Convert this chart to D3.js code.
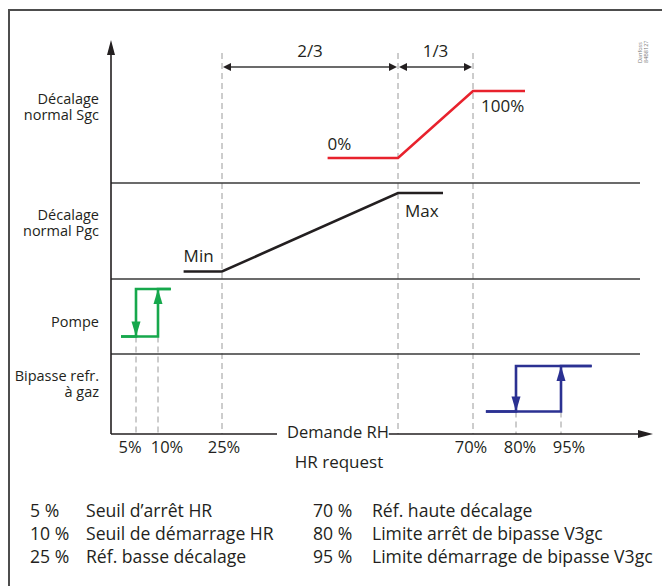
<!DOCTYPE html>
<html>
<head>
<meta charset="utf-8">
<script src="https://cdn.jsdelivr.net/npm/d3@7"></script>
<style>
  body { margin: 0; background: #fff; }
  text { font-family: "Open Sans", sans-serif; fill: #231f20; }
</style>
</head>
<body>
<div id="area"></div>
<script>
// RH thresholds (%) and their labels
let thresholds = [5, 10, 25, 70, 80, 95];
let tickLabels = ["5%", "10%", "25%", "70%", "80%", "95%"];
let splitPoint = 55;          // 2/3 of the way from 25 % to 70 %
let spanLabels = ["2/3", "1/3"];

// lines: RH (%) and level (0 = low, 1 = high)
let sgcRH          = [43, 55, 70, 83],
    sgcLevel       = [0, 0, 1, 1];
let pgcRH          = [16, 25, 55, 64],
    pgcLevel       = [0, 0, 1, 1];
let pumpRiseRH     = [2, 10, 10, 13],
    pumpRiseLevel  = [0, 0, 1, 1];
let pumpFallRH     = [13, 5, 5, 2],
    pumpFallLevel  = [1, 1, 0, 0];
let bypassRiseRH   = [73, 95, 95, 100],
    bypassRiseLevel= [0, 0, 1, 1];
let bypassFallRH   = [100, 80, 80, 73],
    bypassFallLevel= [1, 1, 0, 0];

let bandLabels = [
  ["Décalage", "normal Sgc"],
  ["Décalage", "normal Pgc"],
  ["Pompe"],
  ["Bipasse refr.", "à gaz"]
];

let legendValues = ["5 %", "10 %", "25 %", "70 %", "80 %", "95 %"];
let legendTexts  = [
  "Seuil d\u2019arrêt HR",
  "Seuil de démarrage HR",
  "Réf. basse décalage",
  "Réf. haute décalage",
  "Limite arrêt de bipasse V3gc",
  "Limite démarrage de bipasse V3gc"
];

// ---- layout ----
let width  = 662,
    height = 586;

let x0 = 111, axisY = 434, axisTop = 40, axisEnd = 653, dividerEnd = 640;

// schematic (not linear) RH axis
let x =
  d3.scaleLinear()
    .domain([0, 5, 10, 25, splitPoint, 70, 80, 95, 110])
    .range([x0, 136, 158, 222, 398, 473, 516, 561, axisEnd]);

let bands = [
  {top: axisTop, bottom: 183, lo: 158,   hi: 91,  labelY: 104},
  {top: 183,     bottom: 279, lo: 271.5, hi: 193, labelY: 220},
  {top: 279,     bottom: 354, lo: 336.5, hi: 289, labelY: 327},
  {top: 354,     bottom: axisY, lo: 411.5, hi: 366, labelY: 381}
];
let yBand = bands.map(function(b) {
  return d3.scaleLinear().domain([0, 1]).range([b.lo, b.hi]);
});

let dark  = "#231f20",
    grey  = "#9a9a9a",
    red   = "#e8222d",
    green = "#16a84c",
    blue  = "#2b3192";

let svg =
  d3.select("#area")
    .append("svg")
      .attr("width", width)
      .attr("height", height);

// frame
svg.append("rect")
    .attr("x", 9)
    .attr("y", 10)
    .attr("width", 700)
    .attr("height", 640)
    .attr("fill", "none")
    .attr("stroke", "#4d4d4d")
    .attr("stroke-width", 2);

// dashed guides
let dashTops = {5: bands[2].lo, 10: bands[2].lo, 25: 53, 55: 53, 70: 53, 80: bands[3].lo, 95: bands[3].lo};
svg.append("g")
  .selectAll("line")
  .data(thresholds.concat([splitPoint]))
  .join("line")
    .attr("x1", d => x(d))
    .attr("x2", d => x(d))
    .attr("y1", d => dashTops[d])
    .attr("y2", axisY)
    .attr("stroke", grey)
    .attr("stroke-width", 1)
    .attr("stroke-dasharray", "6,4");

// band dividers
svg.append("g")
  .selectAll("line")
  .data(bands.slice(1))
  .join("line")
    .attr("x1", x0)
    .attr("x2", dividerEnd)
    .attr("y1", d => d.top)
    .attr("y2", d => d.top)
    .attr("stroke", "#3a3a3a")
    .attr("stroke-width", 1.6);

// band labels, one text per line
bands.forEach(function(b, i) {
  bandLabels[i].forEach(function(s, j) {
    svg.append("text")
        .attr("x", 99)
        .attr("y", b.labelY + j * 16)
        .attr("text-anchor", "end")
        .attr("font-size", 14.5)
        .text(s);
  });
});

// axes
svg.append("line")
    .attr("x1", x0).attr("x2", x0)
    .attr("y1", axisY).attr("y2", axisTop + 12)
    .attr("stroke", dark).attr("stroke-width", 1.6);
arrowHead(svg, x0, axisTop, "up", dark, 15, 8);

let xAxisLabel = svg.append("text")
    .attr("x", 287)
    .attr("y", axisY + 4)
    .attr("font-size", 16.5)
    .text("Demande RH");
let lb = xAxisLabel.node().getBBox();

svg.append("line")
    .attr("x1", x0).attr("x2", lb.x - 10)
    .attr("y1", axisY).attr("y2", axisY)
    .attr("stroke", dark).attr("stroke-width", 1.6);
svg.append("line")
    .attr("x1", lb.x + lb.width).attr("x2", axisEnd - 12)
    .attr("y1", axisY).attr("y2", axisY)
    .attr("stroke", dark).attr("stroke-width", 1.6);
arrowHead(svg, axisEnd, axisY, "right", dark, 15, 8);

svg.append("text")
    .attr("x", 339)
    .attr("y", 468)
    .attr("text-anchor", "middle")
    .attr("font-size", 17)
    .text("HR request");

// tick labels
let tickNudge = [-6, 9, 2, -2, 4, 8];
svg.append("g")
  .selectAll("text")
  .data(thresholds)
  .join("text")
    .attr("x", (d, i) => x(d) + tickNudge[i])
    .attr("y", 453)
    .attr("text-anchor", "middle")
    .attr("font-size", 16.5)
    .text((d, i) => tickLabels[i]);

// span arrows 2/3 and 1/3
let spans = [[25, splitPoint], [splitPoint, 70]];
spans.forEach(function(s, i) {
  let a = x(s[0]) + 1, b = x(s[1]) - 1;
  svg.append("line")
      .attr("x1", a + 6).attr("x2", b - 6)
      .attr("y1", 67).attr("y2", 67)
      .attr("stroke", "#3a3a3a").attr("stroke-width", 1.5);
  arrowHead(svg, a, 67, "left", dark, 8, 8);
  arrowHead(svg, b, 67, "right", dark, 8, 8);
  svg.append("text")
      .attr("x", (a + b) / 2)
      .attr("y", 57)
      .attr("text-anchor", "middle")
      .attr("font-size", 17)
      .text(spanLabels[i]);
});

// lines
function drawLine(rh, level, band, color) {
  let line =
    d3.line()
      .x(d => x(d[0]))
      .y(d => yBand[band](d[1]));
  svg.append("path")
     .datum(d3.zip(rh, level))
       .attr("fill", "none")
       .attr("stroke", color)
       .attr("stroke-width", 2.6)
       .attr("d", line);
}

drawLine(sgcRH, sgcLevel, 0, red);
drawLine(pgcRH, pgcLevel, 1, dark);
drawLine(pumpRiseRH, pumpRiseLevel, 2, green);
drawLine(pumpFallRH, pumpFallLevel, 2, green);
drawLine(bypassRiseRH, bypassRiseLevel, 3, blue);
drawLine(bypassFallRH, bypassFallLevel, 3, blue);

// hysteresis arrows
arrowHead(svg, x(5),  yBand[2](0), "down", green, 15, 9);
arrowHead(svg, x(10), yBand[2](1), "up",   green, 15, 9);
arrowHead(svg, x(80), yBand[3](0), "down", blue, 15, 9);
arrowHead(svg, x(95), yBand[3](1), "up",   blue, 15, 9);

// line labels
svg.append("text")
    .attr("x", x(sgcRH[0]))
    .attr("y", yBand[0](0) - 8)
    .attr("font-size", 17)
    .text("0%");
svg.append("text")
    .attr("x", x(70) + 8)
    .attr("y", yBand[0](1) + 21)
    .attr("font-size", 17)
    .text("100%");
svg.append("text")
    .attr("x", x(pgcRH[0]))
    .attr("y", yBand[1](0) - 10)
    .attr("font-size", 17)
    .text("Min");
svg.append("text")
    .attr("x", x(splitPoint) + 7)
    .attr("y", yBand[1](1) + 24)
    .attr("font-size", 17)
    .text("Max");

// drawing reference
let ref = svg.append("text")
    .attr("transform", translate(642, 63) + " rotate(-90)")
    .attr("font-size", 5.5)
    .style("fill", "#777");
ref.append("tspan").attr("x", 0).attr("y", 0).text("Danfoss");
ref.append("tspan").attr("x", 0).attr("y", 6).text("84B8127");

// legend
let legendCols = [{v: 30, t: 86}, {v: 313, t: 372}];
svg.append("g")
  .selectAll("g")
  .data(legendValues)
  .join("g")
    .attr("transform", (d, i) => translate(0, 517 + (i % 3) * 23))
    .each(function(d, i) {
      let col = legendCols[Math.floor(i / 3)];
      let g = d3.select(this);
      g.append("text").attr("x", col.v).attr("font-size", 17.6).text(d);
      g.append("text").attr("x", col.t).attr("font-size", 17.6).text(legendTexts[i]);
    });

function arrowHead(sel, tx, ty, dir, color, len, w) {
  let h = w / 2, p;
  if (dir === "up")    p = [[tx, ty], [tx - h, ty + len], [tx + h, ty + len]];
  if (dir === "down")  p = [[tx, ty], [tx - h, ty - len], [tx + h, ty - len]];
  if (dir === "right") p = [[tx, ty], [tx - len, ty - h], [tx - len, ty + h]];
  if (dir === "left")  p = [[tx, ty], [tx + len, ty - h], [tx + len, ty + h]];
  sel.append("path")
      .attr("d", "M" + p.join("L") + "Z")
      .attr("fill", color);
}

function translate(x, y=0) {
  return "translate({x}, {y})"
          .replace("{x}", x)
          .replace("{y}", y);
}
</script>
</body>
</html>
